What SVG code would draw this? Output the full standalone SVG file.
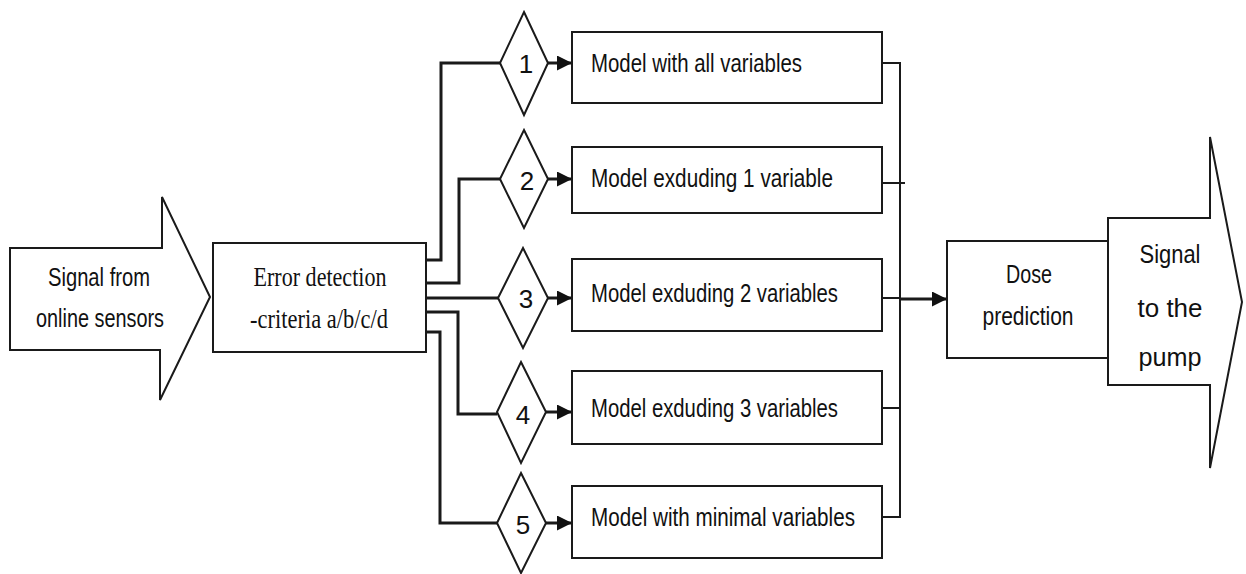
<svg xmlns="http://www.w3.org/2000/svg" width="1246" height="574" viewBox="0 0 1246 574">
  <style>
    .shape { fill: #ffffff; stroke: #1a1a1a; stroke-width: 2; stroke-linejoin: miter; }
    .wire { fill: none; stroke: #1a1a1a; stroke-width: 2; }
    .wire-bold { fill: none; stroke: #1a1a1a; stroke-width: 3; }
    .sans { font-family: "Liberation Sans", Arial, sans-serif; font-size: 26px; fill: #111111; }
    .serif { font-family: "Liberation Serif", "Times New Roman", serif; font-size: 27px; fill: #111111; }
    .num { font-family: "Liberation Sans", Arial, sans-serif; font-size: 26px; fill: #111111; text-anchor: middle; }
  </style>
  <defs>
    <marker id="head" viewBox="0 0 10 10" refX="10" refY="5" markerWidth="5" markerHeight="5" markerUnits="strokeWidth" orient="auto">
      <path d="M0,0 L10,5 L0,10 Z" fill="#111111"/>
    </marker>
  </defs>
  <rect width="1246" height="574" fill="#ffffff"/>

  <!-- input block arrow -->
  <g id="input-signal">
    <polygon class="shape" points="10,248 162,248 162,197 210,297 160,400 160,350 10,350"/>
    <text class="sans" x="99" y="286" text-anchor="middle" textLength="102" lengthAdjust="spacingAndGlyphs">Signal from</text>
    <text class="sans" x="100" y="327" text-anchor="middle" textLength="128" lengthAdjust="spacingAndGlyphs">online sensors</text>
  </g>

  <!-- error detection -->
  <g id="error-detection">
    <rect class="shape" x="213" y="243" width="213" height="109"/>
    <text class="serif" x="320" y="286" text-anchor="middle" textLength="133" lengthAdjust="spacingAndGlyphs">Error detection</text>
    <text class="serif" x="319" y="328" text-anchor="middle" textLength="138" lengthAdjust="spacingAndGlyphs">-criteria a/b/c/d</text>
  </g>

  <!-- connectors -->
  <g id="connectors">
    <!-- fan-out from error detection to the selectors -->
    <path class="wire-bold" d="M426,260 H441 V63 H500"/>
    <path class="wire-bold" d="M426,283 H459 V179 H500"/>
    <path class="wire-bold" d="M426,298 H498"/>
    <path class="wire-bold" d="M426,312 H458 V414 H497"/>
    <path class="wire-bold" d="M426,332 H440 V523 H497"/>
    <!-- selectors to models -->
    <path class="wire-bold" d="M548,63 H572" marker-end="url(#head)"/>
    <path class="wire-bold" d="M548,179 H572" marker-end="url(#head)"/>
    <path class="wire-bold" d="M548,298 H572" marker-end="url(#head)"/>
    <path class="wire-bold" d="M546,412 H572" marker-end="url(#head)"/>
    <path class="wire-bold" d="M546,523 H572" marker-end="url(#head)"/>
    <!-- collector bus -->
    <path class="wire" d="M882,63 H900 V517 H882"/>
    <path class="wire" d="M882,183 H905"/>
    <path class="wire" d="M882,408 H900"/>
    <path class="wire" d="M882,298 H900" stroke="#888888"/>
    <path class="wire-bold" d="M900,299 H947" marker-end="url(#head)"/>
  </g>

  <!-- selectors -->
  <g id="selector-1">
    <polygon class="shape" points="524,12 548,63 524,115 500,63"/>
    <text class="num" x="526" y="73">1</text>
  </g>
  <g id="selector-2">
    <polygon class="shape" points="524,130 548,179 524,228 500,179"/>
    <text class="num" x="527" y="190">2</text>
  </g>
  <g id="selector-3">
    <polygon class="shape" points="523,248 548,298 523,348 498,298"/>
    <text class="num" x="526" y="308">3</text>
  </g>
  <g id="selector-4">
    <polygon class="shape" points="521,362 546,412 521,463 497,412"/>
    <text class="num" x="523" y="424">4</text>
  </g>
  <g id="selector-5">
    <polygon class="shape" points="521,473 546,523 521,573 497,523"/>
    <text class="num" x="523" y="534">5</text>
  </g>

  <!-- models -->
  <g id="model-1">
    <rect class="shape" x="572" y="32" width="310" height="71"/>
    <text class="sans" x="591" y="72" textLength="211" lengthAdjust="spacingAndGlyphs">Model with all variables</text>
  </g>
  <g id="model-2">
    <rect class="shape" x="572" y="147" width="310" height="66"/>
    <text class="sans" x="591" y="187" textLength="242" lengthAdjust="spacingAndGlyphs">Model exduding 1 variable</text>
  </g>
  <g id="model-3">
    <rect class="shape" x="572" y="259" width="310" height="72"/>
    <text class="sans" x="591" y="302" textLength="247" lengthAdjust="spacingAndGlyphs">Model exduding 2 variables</text>
  </g>
  <g id="model-4">
    <rect class="shape" x="572" y="371" width="310" height="73"/>
    <text class="sans" x="591" y="417" textLength="247" lengthAdjust="spacingAndGlyphs">Model exduding 3 variables</text>
  </g>
  <g id="model-5">
    <rect class="shape" x="572" y="486" width="310" height="72"/>
    <text class="sans" x="591" y="526" textLength="264" lengthAdjust="spacingAndGlyphs">Model with minimal variables</text>
  </g>

  <!-- dose prediction -->
  <g id="dose-prediction">
    <rect class="shape" x="947" y="241" width="161" height="117"/>
    <text class="sans" x="1029" y="283" text-anchor="middle" font-size="24" textLength="46" lengthAdjust="spacingAndGlyphs">Dose</text>
    <text class="sans" x="1028" y="325" text-anchor="middle" font-size="24" textLength="91" lengthAdjust="spacingAndGlyphs">prediction</text>
  </g>

  <!-- output block arrow -->
  <g id="output-signal">
    <polygon class="shape" points="1108,218 1210,218 1210,137 1242,302 1210,468 1210,385 1108,385"/>
    <text class="sans" x="1170" y="263" text-anchor="middle" font-size="30" textLength="61" lengthAdjust="spacingAndGlyphs">Signal</text>
    <text class="sans" x="1170" y="317" text-anchor="middle" font-size="30" textLength="65" lengthAdjust="spacingAndGlyphs">to the</text>
    <text class="sans" x="1170" y="366" text-anchor="middle" font-size="30" textLength="63" lengthAdjust="spacingAndGlyphs">pump</text>
  </g>
</svg>
